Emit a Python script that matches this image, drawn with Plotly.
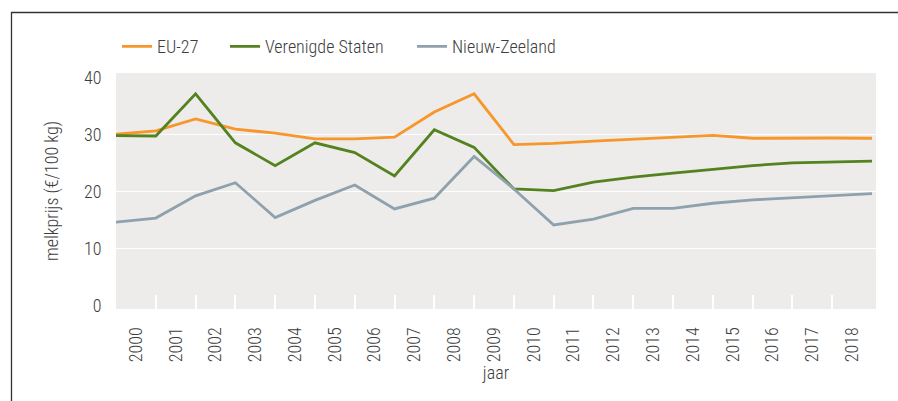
import plotly.graph_objects as go

year_labels = [str(y) for y in range(2000, 2019)]
eu27 = [30.0, 30.6, 32.7, 30.9, 30.2, 29.2, 29.2, 29.5, 33.9, 37.1, 28.2, 28.4, 28.8, 29.1, 29.5, 29.8, 29.3, 29.35, 29.35, 29.3]
verenigde_staten = [29.75, 29.7, 37.1, 28.5, 24.5, 28.5, 26.8, 22.7, 30.8, 27.7, 20.4, 20.1, 21.6, 22.5, 23.2, 23.9, 24.5, 25.0, 25.1, 25.3]
nieuw_zeeland = [14.6, 15.3, 19.2, 21.5, 15.4, 18.4, 21.1, 16.9, 18.8, 26.1, 20.4, 14.1, 15.1, 17.0, 17.0, 17.9, 18.5, 18.9, 19.2, 19.6]
y_ticks = [0, 10, 20, 30, 40]
grid_vals = [10, 20, 30]

series = [
    ("EU-27", eu27, "#F7962A", "legend"),
    ("Verenigde Staten", verenigde_staten, "#53821F", "legend2"),
    ("Nieuw-Zeeland", nieuw_zeeland, "#8DA2AE", "legend3"),
]

FONT = "Roboto Condensed, Liberation Sans Narrow, sans-serif"
TXT = "#3d3d3d"
FW = 300

def fnt():
    return dict(family=FONT, size=18, color=TXT, weight=FW)

fig = go.Figure()
for name, vals, col, lg in series:
    fig.add_trace(go.Scatter(
        x=list(range(len(vals))), y=vals, mode="lines", name=name,
        line=dict(color=col, width=2.8), legend=lg, hoverinfo="skip"))

# invisible trace to carry the gridline axis
fig.add_trace(go.Scatter(x=[0], y=[0], yaxis="y2", mode="markers",
                         marker=dict(opacity=0), showlegend=False, hoverinfo="skip"))

L, R, T, B = 116, 22, 73, 92
W, H = 898, 401
pw, ph = W - L - R, H - T - B

def px_x(p):
    return (p - L) / pw

def px_y(p):
    return 1 + (T - p) / ph

leg_common = dict(orientation="h", xanchor="left", yanchor="middle", y=px_y(46.7),
                  font=fnt(), bgcolor="rgba(0,0,0,0)", borderwidth=0)

yr = [-0.65, 40.75]
n = len(eu27)

fig.update_layout(
    width=W, height=H,
    margin=dict(l=L, r=R, t=T, b=B),
    paper_bgcolor="white", plot_bgcolor="#EDECEA",
    font=fnt(),
    legend=dict(x=px_x(117), **leg_common),
    legend2=dict(x=px_x(225), **leg_common),
    legend3=dict(x=px_x(412), **leg_common),
    xaxis=dict(
        range=[0, n - 1 + 0.1], tickmode="array",
        tickvals=[i + 0.5 for i in range(len(year_labels))], ticktext=year_labels,
        tickangle=-90, ticks="outside", ticklen=10, tickcolor="rgba(0,0,0,0)",
        showgrid=False, zeroline=False, showline=False,
        tickfont=fnt(),
        minor=dict(tickmode="array", tickvals=list(range(1, len(year_labels))),
                   ticks="inside", ticklen=14, tickwidth=1.5, tickcolor="white", showgrid=False),
        title=dict(text="jaar", standoff=2, font=fnt()),
    ),
    yaxis=dict(
        range=yr, tickmode="array", tickvals=y_ticks,
        ticks="outside", ticklen=10, tickcolor="rgba(0,0,0,0)",
        showgrid=False, zeroline=False, showline=False,
        tickfont=fnt(),
        title=dict(text="melkprijs (€/100 kg)", standoff=20, font=fnt()),
    ),
    yaxis2=dict(
        range=yr, overlaying="y", tickmode="array", tickvals=grid_vals,
        showticklabels=False, showgrid=True, gridcolor="white", gridwidth=1.2,
        zeroline=False, showline=False, ticks="", layer="below traces",
    ),
    shapes=[dict(type="rect", xref="paper", yref="paper",
                 x0=px_x(11.5), x1=1.5, y0=-1.0, y1=px_y(12.5),
                 line=dict(color="#333333", width=1.3), fillcolor="rgba(0,0,0,0)",
                 layer="above")],
)

fig.write_html("out.html", config={"displayModeBar": False},
               post_script="document.body.style.margin='0';")
